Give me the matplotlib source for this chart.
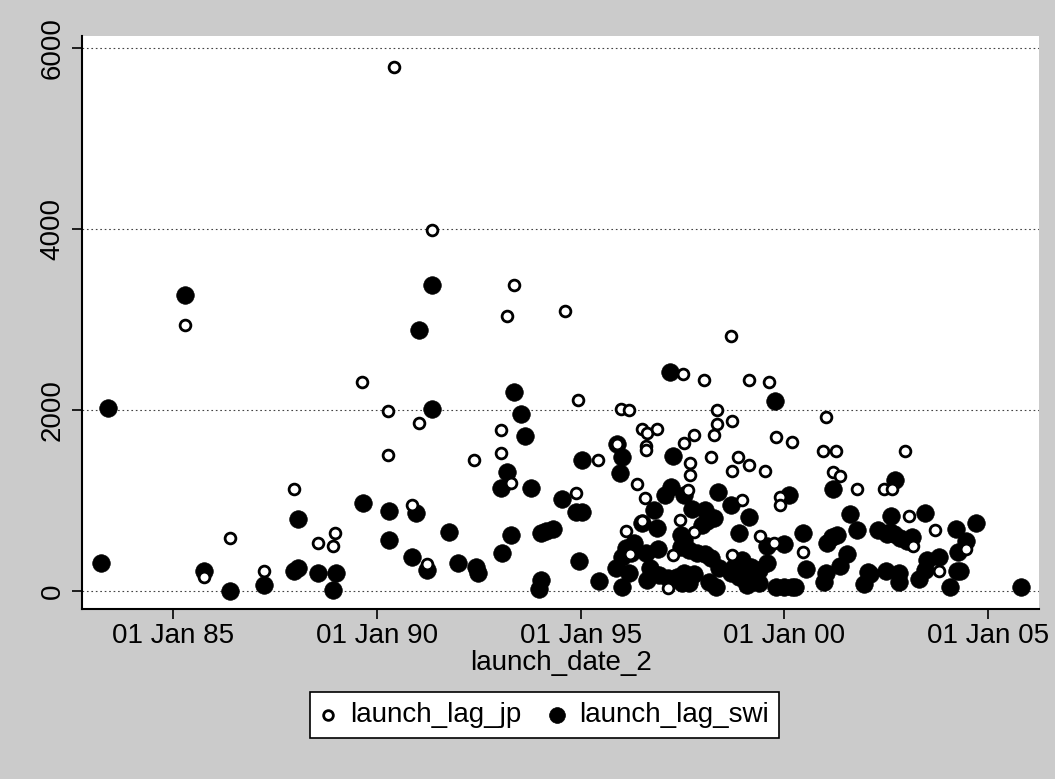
import matplotlib
matplotlib.use("Agg")
import matplotlib.pyplot as plt
import numpy as np

plt.rcParams['font.family'] = ['Liberation Sans', 'DejaVu Sans']

# launch date (decimal year) and lag (days)
jp_date = [1985.30, 1985.75, 1986.40, 1987.23, 1987.97, 1988.56, 1988.91, 1988.97, 1989.63,
           1990.41, 1991.34, 1993.37, 1994.62, 1993.18, 1994.93, 1990.28, 1991.02, 1993.04,
           1993.04, 1990.28, 1992.38, 1993.30, 1995.43, 1994.88, 1990.86, 1991.22,
           1998.69, 1997.52, 1998.02, 1999.12, 1999.62, 1995.99, 1996.18, 1998.35, 1998.35,
           1998.71, 1996.51, 1996.63, 1996.86, 1997.78, 1998.28, 1997.53, 1999.78, 2000.19,
           1995.90, 1996.61, 1996.61, 1997.68, 1998.20, 1998.86, 1999.12, 1998.71, 1999.52,
           1997.68, 1996.37, 1996.59, 1997.64, 1998.95, 1999.90, 1999.88, 1996.51, 1997.43,
           1996.11, 1997.79, 1999.39, 1999.74, 1996.21, 1997.27, 1998.72, 1997.14,
           2001.03, 2000.94, 2001.27, 2002.95, 2001.18, 2001.37, 2001.78, 2002.45, 2002.64,
           2003.05, 2003.15, 2003.70, 2004.45, 2000.45, 2003.80]
jp_lag = [2941, 159, 583, 221, 1133, 528, 498, 642, 2314,
          5790, 3989, 3384, 3092, 3037, 2111, 1985, 1856, 1782,
          1531, 1502, 1443, 1199, 1447, 1088, 952, 299,
          2823, 2402, 2336, 2336, 2314, 2011, 2000, 2004, 1849,
          1882, 1793, 1746, 1790, 1724, 1724, 1638, 1701, 1642,
          1627, 1605, 1561, 1420, 1487, 1487, 1398, 1332, 1332,
          1281, 1181, 1026, 1118, 1007, 1044, 952, 770, 786,
          668, 653, 609, 528, 406, 398, 398, 37,
          1919, 1553, 1553, 1553, 1314, 1277, 1126, 1126, 1126,
          830, 498, 675, 461, 428, 225]

swi_date = [1983.41, 1983.24, 1985.30, 1985.75, 1986.40, 1987.23, 1988.06, 1987.97, 1988.07,
            1988.56, 1989.00, 1988.91, 1989.65,
            1991.35, 1991.02, 1993.37, 1991.36, 1993.53, 1993.63, 1993.20, 1993.04, 1993.79,
            1995.04, 1994.53, 1994.88, 1995.04, 1990.29, 1990.96, 1991.78, 1990.29, 1993.28,
            1994.02, 1994.15, 1994.31, 1990.87, 1991.22, 1991.98, 1992.43, 1992.47, 1993.06,
            1994.96, 1994.02, 1993.98, 1995.46,
            1997.19, 1999.77, 1995.90, 1996.02, 1995.96, 1997.27,
            1997.21, 1997.07, 1997.53, 1998.37, 1998.70, 2000.12, 1996.80, 1997.72, 1998.04,
            1999.13, 1996.51, 1996.86, 1998.10, 1998.27, 1997.97, 1998.88, 1997.45, 1999.58,
            2000.00, 1996.10, 1996.31, 1996.23, 1996.02, 1996.61, 1996.90, 1997.45, 1997.65,
            1997.86, 1998.06, 1998.19, 1997.53, 1998.76, 1998.96, 1999.00, 1999.17, 1998.88,
            1998.68, 1999.25, 1999.37, 1999.58, 1998.39, 1995.86, 1996.18, 1996.70, 1996.92,
            1997.13, 1997.37, 1997.53, 1997.78, 1996.02, 1996.63, 1997.49, 1997.65, 1998.15,
            1998.31, 1999.09, 1999.37, 1999.78, 1999.99, 2000.19,
            2001.19, 2002.72, 2001.62, 2002.62, 2003.46, 2000.45, 2001.78, 2001.04, 2001.17,
            2001.29, 2002.29, 2002.52, 2002.68, 2002.84, 2003.01, 2003.13, 2002.60, 2004.21,
            2004.71, 2004.46, 2004.27, 2001.54, 2001.37, 2000.53, 2001.03, 2000.96, 2002.04,
            2002.11, 2001.94, 2002.48, 2002.80, 2002.80, 2003.50, 2003.78, 2003.46, 2003.29,
            2004.23, 2004.31, 2000.25, 2004.05, 2005.80]
swi_lag = [2022, 307, 3269, 225, 3, 70, 794, 225, 251,
           196, 196, 11, 978,
           3376, 2889, 2195, 2015, 1959, 1719, 1317, 1137, 1137,
           1450, 1018, 875, 875, 886, 867, 653, 565, 624,
           640, 665, 690, 373, 232, 314, 269, 203, 417,
           329, 122, 19, 114,
           2421, 2096, 1627, 1487, 1303, 1491,
           1155, 1063, 1063, 1093, 952, 1066, 897, 904, 897,
           823, 756, 697, 775, 805, 731, 646, 620, 498,
           520, 473, 535, 417, 380, 417, 462, 490, 454,
           417, 410, 362, 564, 269, 343, 196, 269, 158,
           196, 177, 232, 306, 251, 251, 196, 251, 177,
           140, 158, 196, 188, 48, 122, 92, 85, 103,
           48, 66, 85, 41, 41, 41,
           1126, 1229, 852, 830, 860, 638, 675, 528, 601,
           620, 675, 631, 631, 583, 557, 601, 656, 686,
           749, 557, 435, 406, 280, 243, 196, 103, 214,
           185, 77, 221, 203, 103, 343, 373, 232, 133,
           225, 225, 41, 41, 41]

x_ticks = [1985, 1990, 1995, 2000, 2005]
x_labels = ["01 Jan 85", "01 Jan 90", "01 Jan 95", "01 Jan 00", "01 Jan 05"]
y_ticks = [0, 2000, 4000, 6000]

fig = plt.figure(figsize=(10.55, 7.79), dpi=100, facecolor='#cbcbcb')
ax = fig.add_axes([0.078, 0.218, 0.907, 0.736])
ax.set_facecolor('white')

ax.scatter(swi_date, swi_lag, s=160, color='black', edgecolors='black', linewidths=0.5,
           zorder=3, label='launch_lag_swi')
ax.scatter(jp_date, jp_lag, s=60, facecolors='white', edgecolors='black', linewidths=2.0,
           zorder=4, label='launch_lag_jp')

ax.set_xlim(1982.77, 2006.25)
ax.set_ylim(-199, 6133)
ax.set_xticks(x_ticks)
ax.set_xticklabels(x_labels, fontsize=20)
ax.set_yticks(y_ticks)
ax.set_yticklabels([str(v) for v in y_ticks], fontsize=20, rotation=90, va='center')
ax.tick_params(axis='both', direction='out', length=7, width=1.2, color='black')
ax.tick_params(axis='x', pad=3)
ax.tick_params(axis='y', pad=5)

for v in y_ticks:
    ax.axhline(v, color='#444444', linewidth=0.8, linestyle=(0, (1.5, 2.5)), zorder=1)

for side in ['top', 'right']:
    ax.spines[side].set_visible(False)
for side in ['left', 'bottom']:
    ax.spines[side].set_linewidth(1.5)

ax.set_xlabel('launch_date_2', fontsize=20, labelpad=1)

h_swi, h_jp = ax.get_legend_handles_labels()[0]
leg = fig.legend([h_jp, h_swi], ['launch_lag_jp', 'launch_lag_swi'],
                 loc='center', bbox_to_anchor=(0.516, 0.082), ncol=2, fontsize=20,
                 frameon=True, fancybox=False, edgecolor='black', framealpha=1,
                 handlelength=0.6, handletextpad=0.5, columnspacing=1.0,
                 borderpad=0.35, markerscale=0.9)
leg.get_frame().set_linewidth(1.2)

fig.savefig('out.png', dpi=100, facecolor=fig.get_facecolor())
